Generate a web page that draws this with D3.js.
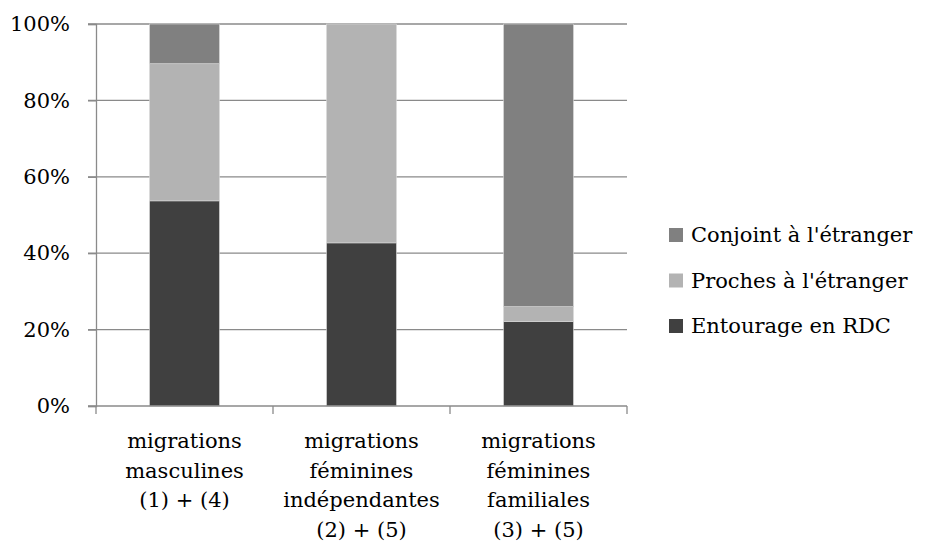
<!DOCTYPE html>
<html><head><meta charset="utf-8">
<script src="https://cdn.jsdelivr.net/npm/d3@7"></script>
<style>
html,body{margin:0;padding:0;background:#fff;}
text{font-family:"DejaVu Serif",serif;font-variant-numeric:oldstyle-nums;fill:#000;}
</style></head>
<body><svg id="c" width="929" height="551"></svg>
<script>
const categories = ["masc", "fem_ind", "fem_fam"];
const categoryLabels = [
  ["migrations", "masculines", "(1) + (4)"],
  ["migrations", "féminines", "indépendantes", "(2) + (5)"],
  ["migrations", "féminines", "familiales", "(3) + (5)"]
];
const seriesNames = ["Entourage en RDC", "Proches à l'étranger", "Conjoint à l'étranger"];
const entourage = [53.7, 42.7, 22.1];
const proches = [35.9, 57.3, 3.9];
const conjoint = [10.4, 0, 74.0];
const yTicks = [0, 20, 40, 60, 80, 100];
const colors = ["#404040", "#b3b3b3", "#808080"];

const FS = 21;
const svg = d3.select("#c");
const L = 96, R = 627, T = 24, B = 406;
const x = d3.scaleBand().domain(categories).range([L, R]).padding(0);
const y = d3.scaleLinear().domain([0, 100]).range([B, T]);
const barW = x.bandwidth() * 0.395;

// gridlines
svg.append("g").selectAll("line").data(yTicks.filter(d => d > 0)).join("line")
  .attr("x1", L - 8).attr("x2", R).attr("y1", d => y(d)).attr("y2", d => y(d))
  .attr("stroke", "#8a8a8a").attr("stroke-width", 1.3);

// stacked data
const rows = categories.map((c, i) => ({cat: c, s0: entourage[i], s1: proches[i], s2: conjoint[i]}));
const stack = d3.stack().keys(["s0", "s1", "s2"]);
const layers = stack(rows);
svg.append("g").selectAll("g").data(layers).join("g")
  .attr("fill", (d, i) => colors[i])
  .selectAll("rect").data(d => d.filter(p => p[1] - p[0] > 0)).join("rect")
  .attr("x", d => x(d.data.cat) + (x.bandwidth() - barW) / 2)
  .attr("width", barW)
  .attr("y", d => y(d[1]))
  .attr("height", d => y(d[0]) - y(d[1]))
  .attr("stroke", "#d9d9d9").attr("stroke-width", 0.6);

// y axis
const yAxis = d3.axisLeft(y).tickValues(yTicks).tickSize(8).tickFormat(d => d + "%");
const gy = svg.append("g").attr("transform", `translate(${L},0)`).call(yAxis);
gy.attr("font-family", null).attr("font-size", null);
gy.select(".domain").attr("stroke", "#8a8a8a").attr("stroke-width", 1.3);
gy.selectAll(".tick line").attr("stroke", "#8a8a8a").attr("stroke-width", 1.3);
gy.selectAll(".tick text").attr("x", -26).style("font-size", FS + "px").attr("dy", "0.32em");

// x axis
const gx = svg.append("g").attr("transform", `translate(0,${B})`);
gx.append("line").attr("x1", L - 8).attr("x2", R).attr("y1", 0).attr("y2", 0)
  .attr("stroke", "#8a8a8a").attr("stroke-width", 1.3);
const bounds = categories.map(c => x(c)).concat([x(categories[categories.length - 1]) + x.bandwidth()]);
gx.selectAll("line.t").data(bounds).join("line").attr("class", "t")
  .attr("x1", d => d).attr("x2", d => d).attr("y1", 0).attr("y2", 8)
  .attr("stroke", "#8a8a8a").attr("stroke-width", 1.3);
categories.forEach((c, i) => {
  const t = gx.append("text").attr("text-anchor", "middle").style("font-size", FS + "px")
    .attr("transform", `translate(${x(c) + x.bandwidth() / 2},0)`);
  categoryLabels[i].forEach((ln, j) => {
    t.append("tspan").attr("x", 0).attr("y", 42 + j * 29.5).text(ln);
  });
});

// legend
const legendOrder = [2, 1, 0];
const lg = svg.append("g").attr("transform", "translate(669,0)");
legendOrder.forEach((si, k) => {
  const cy = 235 + k * 45.5;
  lg.append("rect").attr("x", 0).attr("y", cy - 7).attr("width", 14).attr("height", 14).attr("fill", colors[si]);
  lg.append("text").attr("x", 22).attr("y", cy).attr("dy", "0.35em").style("font-size", FS + "px").text(seriesNames[si]);
});
</script></body></html>
